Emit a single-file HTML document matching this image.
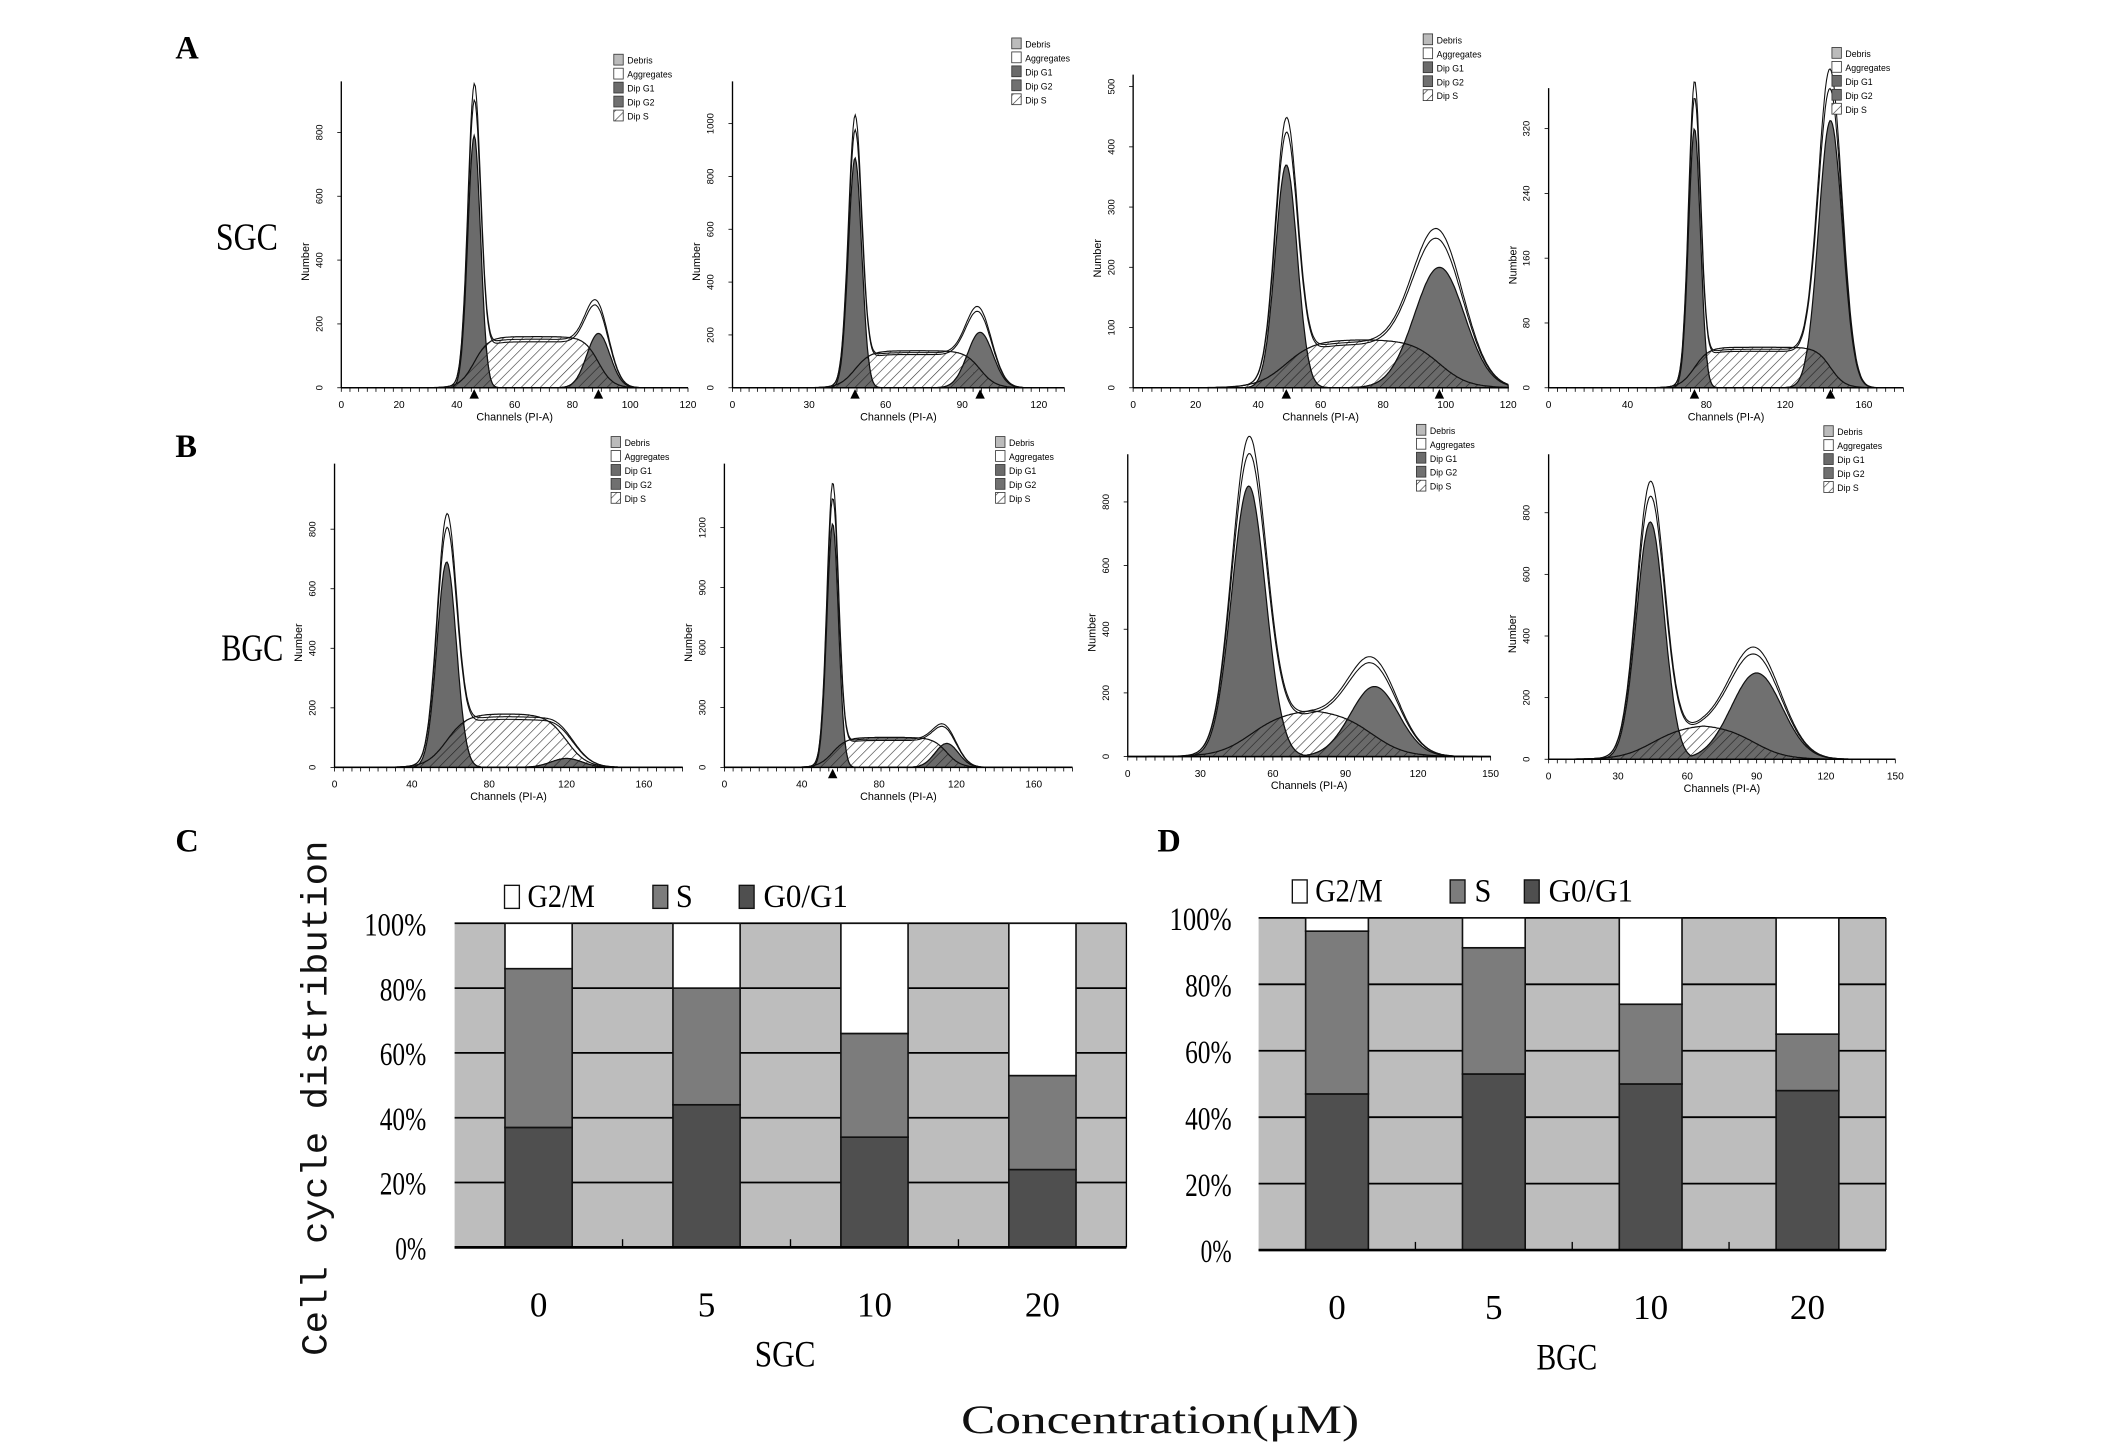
<!DOCTYPE html>
<html><head><meta charset="utf-8"><style>
html,body{margin:0;padding:0;background:#fff;}
svg{display:block;}
</style></head><body>
<svg id="fig" xmlns="http://www.w3.org/2000/svg" width="2126" height="1448" viewBox="0 0 1576 1068" preserveAspectRatio="none">
<defs>
<pattern id="hatch" patternUnits="userSpaceOnUse" width="5" height="5" patternTransform="rotate(45)"><rect width="5" height="5" fill="#fff"/><line x1="0" y1="0" x2="0" y2="5" stroke="#333" stroke-width="0.9"/></pattern>
<pattern id="hatchd" patternUnits="userSpaceOnUse" width="5" height="5" patternTransform="rotate(45)"><rect width="5" height="5" fill="#6a6a6a"/><line x1="0" y1="0" x2="0" y2="5" stroke="#222" stroke-width="0.9"/></pattern>
</defs>
<g font-family="Liberation Serif, serif" font-weight="bold" font-size="24">
<text x="130" y="43">A</text>
<text x="130" y="337">B</text>
<text x="130" y="628">C</text>
<text x="858" y="628">D</text>
</g>
<g font-family="Liberation Serif, serif" font-size="28">
<text x="160" y="184" textLength="46" lengthAdjust="spacingAndGlyphs">SGC</text>
<text x="164" y="487" textLength="46" lengthAdjust="spacingAndGlyphs">BGC</text>
</g>
<g id="hists"></g>
<g id="barC"></g>
<g id="barD"></g>
<text x="242" y="810" transform="rotate(-90 242 810)" text-anchor="middle" font-family="Liberation Mono, monospace" font-size="27" textLength="380" lengthAdjust="spacingAndGlyphs" fill="#111">Cell cycle distribution</text>
<text x="860" y="1057" text-anchor="middle" font-family="Liberation Serif, 'Noto Serif CJK SC', serif" font-size="30" textLength="295" lengthAdjust="spacingAndGlyphs" fill="#111">Concentration(μM)</text>
</svg>
<script>
// ---- Stacked bar data ----
const categories = ["0","5","10","20"];
const sgcG0G1 = [37, 44, 34, 24];
const sgcS = [49, 36, 32, 29];
const sgcG2M = [14, 20, 34, 47];
const bgcG0G1 = [47, 53, 50, 48];
const bgcS = [49, 38, 24, 17];
const bgcG2M = [4, 9, 26, 35];
const yTicks = ["0%","20%","40%","60%","80%","100%"];
const legendLabels = ["G2/M","S","G0/G1"];
// ---- Histogram data (component parameters per panel) ----
const histXMax = [120,130,120,180,180,180,150,150];
const histXTicks = [[0,20,40,60,80,100,120],[0,30,60,90,120],[0,20,40,60,80,100,120],[0,40,80,120,160],[0,40,80,120,160],[0,40,80,120,160],[0,30,60,90,120,150],[0,30,60,90,120,150]];
const histYMax = [960,1160,520,370,1020,1520,950,990];
const histYTicks = [[0,200,400,600,800],[0,200,400,600,800,1000],[0,100,200,300,400,500],[0,80,160,240,320],[0,200,400,600,800],[0,300,600,900,1200],[0,200,400,600,800],[0,200,400,600,800]];
const g1Mean = [46,48,49,74,58,56,50,44];
const g1Height = [790,870,370,320,690,1220,850,770];
const g1Sd = [2.2,2.6,3.5,3,5,3,7,6];
const g2Mean = [89,97,98,143,120,115,102,90];
const g2Height = [170,210,200,330,30,120,220,280];
const g2Sd = [4,5,8,6,8,6,10,11];
const sLevel = [160,140,80,50,180,150,150,115];

const NS="http://www.w3.org/2000/svg";
function mk(tag,attrs,parent){const e=document.createElementNS(NS,tag);for(const k in attrs)e.setAttribute(k,attrs[k]);parent.appendChild(e);return e;}

const boxes=[[253,510,286,60],[543,789,286,60],[840,1118,286,55],[1148,1411,286,65],[248,506,566,342],[537,795,566,342],[836,1105,558,335],[1148,1405,560,335]];
const legPos=[[455,40],[750,28],[1055,25],[1358,35],[453,322],[738,322],[1050,313],[1352,314]];
const hists=document.getElementById('hists');
function gauss(x,m,h,s){return h*Math.exp(-0.5*((x-m)/s)**2);}
function sig(t){return 1/(1+Math.exp(-t));}
for(let p=0;p<8;p++){
  const [X0,X1,YB,YT]=boxes[p];
  const g=mk('g',{},hists);
  
  
  const sx=v=>X0+(X1-X0)*v/histXMax[p];
  const sy=v=>YB-(YB-YT)*v/histYMax[p];
  const N=300,xs=[];for(let i=0;i<=N;i++)xs.push(histXMax[p]*i/N);
  const f1=x=>gauss(x,g1Mean[p],g1Height[p],g1Sd[p]);
  const f2=x=>gauss(x,g2Mean[p],g2Height[p],g2Sd[p]);
  const w=(g1Sd[p]+g2Sd[p])/2;
  const fs=x=>sLevel[p]*sig((x-g1Mean[p])/(w*0.8))*sig((g2Mean[p]-x)/(w*0.8))*(1-0.25*(p>=6?Math.abs((x-(g1Mean[p]+g2Mean[p])/2)/(g2Mean[p]-g1Mean[p])):0));
  const area=(fn,fill,name)=>{let d='M'+sx(0)+','+YB;xs.forEach(x=>d+=' L'+sx(x).toFixed(1)+','+sy(fn(x)).toFixed(1));d+=' L'+sx(histXMax[p])+','+YB+'Z';const e=mk('path',{d:d,fill:fill,stroke:'#111','stroke-width':0.9},g);};
  area(fs,'url(#hatch)','s-phase-area');
  area(f1,'#6b6b6b','g1-peak-area');
  area(f2,'#707070','g2-peak-area');
  area(x=>Math.min(fs(x),Math.max(f1(x),f2(x))),'url(#hatchd)','s-overlap-area');
  const line=(fn,name,sw)=>{let d='';xs.forEach((x,i)=>d+=(i?' L':'M')+sx(x).toFixed(1)+','+sy(fn(x)).toFixed(1));const e=mk('path',{d:d,fill:'none',stroke:'#111','stroke-width':sw},g);};
  line(x=>f1(x)*1.05+f2(x)*1.05+fs(x)*0.9,'fitted-curve',0.8);
  line(x=>f1(x)*1.11+f2(x)*1.12+fs(x)*0.95,'raw-data-curve',0.8);
  mk('line',{x1:X0,y1:YB,x2:X1,y2:YB,stroke:'#000','stroke-width':1},g);
  mk('line',{x1:X0,y1:YB,x2:X0,y2:YT,stroke:'#000','stroke-width':1},g);
  for(let t=0;t<=histXMax[p];t+=histXMax[p]/40){mk('line',{x1:sx(t),y1:YB,x2:sx(t),y2:YB+3,stroke:'#000','stroke-width':0.6},g);}
  histXTicks[p].forEach(t=>{const e=mk('text',{x:sx(t),y:YB+15,'text-anchor':'middle','font-family':'Liberation Sans, sans-serif','font-size':7.5},g);e.textContent=t;});
  histYTicks[p].forEach(t=>{mk('line',{x1:X0-3,y1:sy(t),x2:X0,y2:sy(t),stroke:'#000','stroke-width':0.6},g);const e=mk('text',{x:X0-14,y:sy(t),'text-anchor':'middle','font-family':'Liberation Sans, sans-serif','font-size':7,transform:'rotate(-90 '+(X0-14)+' '+sy(t)+')'},g);e.textContent=t;});
  const xl=mk('text',{x:(X0+X1)/2,y:YB+24,'text-anchor':'middle','font-family':'Liberation Sans, sans-serif','font-size':8},g);xl.textContent='Channels (PI-A)';
  
  const yx=X0-24,yy=(YB+YT)/2+20;
  const yl=mk('text',{x:yx,y:yy,'text-anchor':'middle','font-family':'Liberation Sans, sans-serif','font-size':8,transform:'rotate(-90 '+yx+' '+yy+')'},g);yl.textContent='Number';
  
  if(p<4||p==5){[g1Mean[p],g2Mean[p]].forEach((m,i)=>{if(p==5&&i==1)return;const x=sx(m);mk('path',{d:`M${x-3.5},${YB+8} L${x+3.5},${YB+8} L${x},${YB+1}Z`,fill:'#000'},g);});}
  const [lx,ly]=legPos[p];const lf=['#bbb','#fff','#6b6b6b','#707070','url(#hatch)'];const lt=['Debris','Aggregates','Dip G1','Dip G2','Dip S'];
  lt.forEach((t,i)=>{const r=mk('rect',{x:lx,y:ly+i*10.3,width:7,height:8,fill:lf[i],stroke:'#333','stroke-width':0.6},g);const e=mk('text',{x:lx+10,y:ly+i*10.3+7,'font-family':'Liberation Sans, sans-serif','font-size':6.5},g);e.textContent=t;});
}

// ---- Stacked bar charts ----
function barChart(gid,box,G0,S,G2,groupLabel,leg,tickX){
  const g=document.getElementById(gid);
  const [L,R,T,B]=box;
  const sy=v=>B-(B-T)*v/100;
  const band=(R-L)/categories.length;
  const bw=band*0.4;
  const cx=i=>L+band*(i+0.5);
  const bg=mk('rect',{x:L,y:T,width:R-L,height:B-T,fill:'#bdbdbd'},g);
  
  yTicks.forEach((t,i)=>{const v=i*20;mk('line',{x1:L,y1:sy(v),x2:R,y2:sy(v),stroke:'#000','stroke-width':1.3},g);
    const e=mk('text',{x:tickX,y:sy(v)+9,'text-anchor':'end','font-family':'Liberation Serif, serif','font-size':24,textLength:t.length*11.5,lengthAdjust:'spacingAndGlyphs'},g);e.textContent=t;
    });
  mk('line',{x1:R,y1:T,x2:R,y2:B,stroke:'#000','stroke-width':1},g);
  categories.forEach((c,i)=>{
    const x=cx(i);
    const segs=[[0,G0[i],'#4f4f4f','bar-g0g1-'+c],[G0[i],G0[i]+S[i],'#7c7c7c','bar-s-'+c],[G0[i]+S[i],G0[i]+S[i]+G2[i],'#ffffff','bar-g2m-'+c]];
    segs.forEach(s=>{const r=mk('rect',{x:x-bw/2,y:sy(s[1]),width:bw,height:sy(s[0])-sy(s[1]),fill:s[2],stroke:'#111','stroke-width':1.2},g);
      
      });
    const t=mk('text',{x:x,y:B+51,'text-anchor':'middle','font-family':'Liberation Serif, serif','font-size':26},g);t.textContent=c;
    
    if(i<categories.length-1) mk('line',{x1:L+band*(i+1),y1:B,x2:L+band*(i+1),y2:B-6,stroke:'#000','stroke-width':1},g);
  });
  mk('line',{x1:L,y1:B,x2:R,y2:B,stroke:'#000','stroke-width':2},g);
  const gl=mk('text',{x:(L+R)/2-4,y:B+88,'text-anchor':'middle','font-family':'Liberation Serif, serif','font-size':27,textLength:45,lengthAdjust:'spacingAndGlyphs'},g);gl.textContent=groupLabel;
  
  const fills=['#fff','#7c7c7c','#4f4f4f'];
  legendLabels.forEach((l,i)=>{const [bx,tx,y]=leg[i];
    const r=mk('rect',{x:bx,y:y-16,width:11,height:17,fill:fills[i],stroke:'#111','stroke-width':1},g);
    
    const t=mk('text',{x:tx+3,y:y,'font-family':'Liberation Serif, serif','font-size':24,textLength:l.length*12.5,lengthAdjust:'spacingAndGlyphs'},g);t.textContent=l;
    });
}
barChart('barC',[337,835,681,920],sgcG0G1,sgcS,sgcG2M,'SGC',[[374,388,669],[484,498,669],[548,563,669]],316);
barChart('barD',[933,1398,677,922],bgcG0G1,bgcS,bgcG2M,'BGC',[[958,972,665],[1075,1090,665],[1130,1145,665]],913);
</script>
</body></html>
